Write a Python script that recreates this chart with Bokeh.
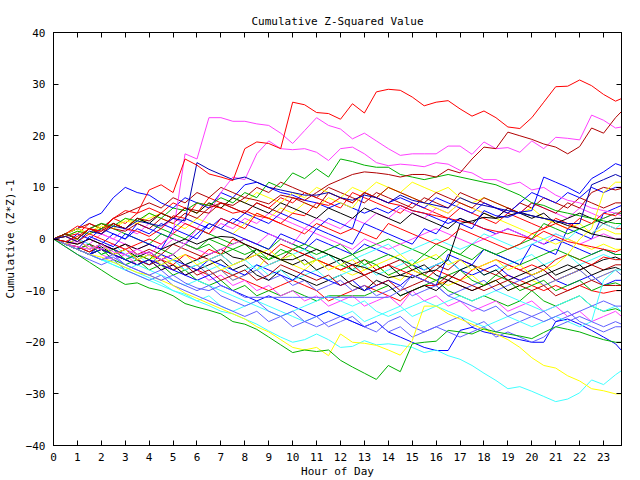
from bokeh.plotting import figure
from bokeh.models import Range1d, LinearAxis, FixedTicker
from bokeh.embed import file_html
from bokeh.resources import INLINE

TITLE = "Cumulative Z-Squared Value"
X_LABEL = "Hour of Day"
Y_LABEL = "Cumulative (Z*Z)-1"

HOURS = [0, 0.5, 1, 1.5, 2, 2.5, 3, 3.5, 4, 4.5, 5, 5.5, 6, 6.5, 7, 7.5,
         8, 8.5, 9, 9.5, 10, 10.5, 11, 11.5, 12, 12.5, 13, 13.5, 14, 14.5, 15, 15.5,
         16, 16.5, 17, 17.5, 18, 18.5, 19, 19.5, 20, 20.5, 21, 21.5, 22, 22.5, 23, 23.5,
         23.75]
X_TICKS = [0, 1, 2, 3, 4, 5, 6, 7, 8, 9, 10, 11, 12, 13, 14, 15, 16, 17, 18, 19, 20, 21, 22, 23]
Y_TICKS = [-40, -30, -20, -10, 0, 10, 20, 30, 40]

R1 = [0, -0.5, 0.5, 2, 1.5, 4, 5.5, 5,
      9.5, 10.5, 9, 15.5, 14.3, 12.6, 12, 11.3,
      17.5, 18.8, 18.5, 17.5, 26.5, 26, 24.5, 24.3,
      23.2, 26.2, 24.4, 28.5, 29, 28.8, 27.5, 25.8,
      26.5, 26.8, 25.2, 23.8, 24.8, 23.5, 21.7, 21.4,
      23.5, 26.5, 29.5, 29.6, 30.8, 29.7, 28, 26.7,
      27.2]
M1 = [0, -1, -1.5, -2, -1, -2.5, -3, -2,
      -3, -1, 1, 16.5, 15.5, 23.5, 23.5, 22.8,
      22.8, 22.3, 22, 20.5, 18.5, 21, 23.5, 22,
      21.3, 19.4, 20.5, 19, 17.5, 16.2, 16.5, 16.5,
      16.5, 18, 18, 16.4, 18.8, 17.5, 17.7, 16.8,
      19, 17.5, 19.7, 19.5, 19.2, 24, 23, 21.5,
      21.7]
M2 = [0, -1, -0.5, -1.5, -2, -1, -2, -3,
      -2.5, -4, -3, -1, 2, 5, 9, 12,
      11.5, 16.5, 19, 17.5, 17.3, 17.5, 16.8, 15.2,
      17.5, 17.8, 16.5, 14.8, 14.2, 14.5, 14.3, 14,
      14.8, 14.5, 13.3, 12.8, 11.5, 11.5, 10.5, 11,
      9.5, 10, 8.5, 7.5, 7, 6, 5.5, 5,
      4.5]
DR1 = [0, 1, 0, 2, 1.5, 3, 2, 4,
       3.5, 5, 4, 6, 5.5, 5, 7, 6.5,
       8, 7.5, 6.8, 8.5, 8, 7.5, 9, 10.5,
       11.5, 12.5, 13, 12.8, 12.5, 12, 12.5, 12.5,
       12, 13.5, 12.8, 15.5, 17.8, 17.5, 20.7, 20,
       19.3, 18.4, 17.8, 16.5, 17.9, 21.5, 20.5, 23.5,
       24.7]
G1 = [0, -1.5, -3, -4.5, -6, -7.5, -8.8, -8.5,
      -9.5, -10, -11, -12.5, -13.2, -13.8, -14.5, -16,
      -16.5, -17.5, -19, -20.5, -22, -21.5, -21.8, -21.5,
      -23.5, -24.8, -26, -27.2, -24.5, -25.7, -20.3, -20,
      -19.8, -17.7, -18, -18.4, -17.4, -18, -18.4, -18.8,
      -19.3, -18.1, -17, -17.5, -18, -18.8, -19.5, -20,
      -20]
C1 = [0, -1, -2, -3, -4, -4.5, -5.5, -6.5,
      -7.5, -8.5, -10, -10.7, -12, -12.9, -14, -14.5,
      -15.5, -16.5, -17.8, -19, -20, -19.5, -18.4, -19.5,
      -21, -20.8, -19.7, -20.5, -20.3, -20.6, -21, -22,
      -21.5, -22.6, -23.3, -24.5, -26, -27.4, -29, -28.6,
      -29.5, -30.5, -31.5, -31, -29.8, -27.3, -28.2, -26.3,
      -25.5]
Y1 = [0, -1, -2, -3, -3.5, -4.5, -5.5, -6.5,
      -7, -8, -9, -10.5, -11.5, -12.5, -13.5, -14.5,
      -15.5, -17, -18, -19.5, -21, -21.5, -21, -22.6,
      -18.4, -20, -20.2, -20.6, -21.5, -22.5, -19.7, -13,
      -13, -14.5, -15.5, -16.5, -17.5, -18.4, -19.5, -21,
      -23, -24.5, -25, -26.5, -27.5, -29, -29.4, -30,
      -30]
B1 = [0, -1, -2, 0.5, -0.5, -1.5, 1, 0,
      -1, -2, 2, 1, 0, 3, 2, 1,
      0, -1, -2, 1, 0, -1, 2, 1,
      0, -1, 3, 2, 1, 0, -1, 2,
      1, 4, 3, 2, 5.5, 4.5, 4.2, 5.2,
      5.5, 12, 11, 10, 8.8, 11.7, 13, 14.6,
      14.2]
B2 = [0, 0.5, -0.5, 1.5, 1, 2.5, 2, 3.5,
      3, 2.5, 4, 3.5, 14.8, 13.5, 12.5, 11.5,
      12, 11, 10, 9.5, 9, 8.5, 8.5, 9,
      8, 7.5, 8.5, 8, 7, 8.5, 7.5, 7,
      6.5, 6, 8, 7, 6.5, 6, 5.5, 5,
      4.5, 4, 3.5, 3, 3, 10.5, 11.5, 12.5,
      12]
B6 = [0, 1, 2, 4, 5, 8, 10, 9,
      8.5, 7, 6, 8, 7, 6, 9, 8,
      10.5, 11, 10, 9, 8.5, 7.5, 7, 6,
      7, 6, 5, 6, 5, 6.5, 5.5, 5,
      4, 3, 4, 3, 2, 1, 2, 1,
      0, -1, 0, -1, -2, -3, -2, -3,
      -3]
B7 = [0, -1, 0, -2, -1, 1, 0, 2,
      1, 3, 2, 4, 3, 2, 4, 3,
      5, 4, 3, 5, 4, 3, 2, 4,
      3, 2, 9, 8, 7, 8, 7, 6,
      8, 7, 6, 5, 7, 6, 5, 7,
      9, 8, 7, 9, 8, 10, 9, 10,
      10]
R2 = [0, 1, 2.5, 2, 1, 3, 2, 1.5,
      0.5, 2, 4.5, 4, 7, 6.5, 6, 5,
      5.5, 4.5, 4, 3, 5, 4.5, 7, 6.5,
      8, 7, 9, 8, 7, 6.5, 5.5, 5,
      4.5, 4, 3.5, 3, 2, 1.5, 1, 0.5,
      0, 1.5, 0.5, -0.5, -1, -1.5, -2, -2.5,
      -2]
R3 = [0, -1, -2, -3, -2, -3, -4, -3,
      -4, -5, -6, -5, -6, -7, -6, -7,
      -8, -9, -10, -9, -8, -9, -10, -12,
      -11, -10, -9, -10, -11, -12, -10, -9,
      -9, -8, -9, -10, -9, -8, -7, -8,
      -9, -10, -9, -10, -9, -10, -10.5, -10,
      -10]
R4 = [0, 0.5, -0.5, 1, 0, -1, -2, -1,
      0, -1, 1, 3, 2, 1, 4, 3,
      2, 5, 4, 3, 2, 1, 3, 2,
      1, 2, 1, 0, 3, 2, 1, 0,
      -1, 0, 2, 1, 0, -1, -2, -1,
      1, 2, 3, 2, 4, 3, 5, 4.5,
      5.5]
R5 = [0, -1, -1.5, -2.5, -1, -2, -3, -4,
      -3, -4, -5, -3, -4, -2, -3, 0,
      -1, -2, -3, -1, -2, -3, -4, -5,
      -6, -5, -7, -6, -5, -6, -7, -8,
      -6, -7, -8, -6, -5, -4, -5, -6,
      -5, -6, -4, -3, -4, -5, -3.5, -4,
      -4]
R6 = [0, 0.5, 1, 3, 2, 4, 3, 5,
      6, 5, 7, 6, 5, 8, 7, 6,
      5, 7, 6, 8, 7, 9, 8, 7,
      6, 9, 8, 7, 6, 5, 7, 6,
      5, 4, 6, 5, 4, 3, 5, 4,
      3, 2, 4, 3, 2, 1, 3, 2,
      2]
DR2 = [0, 1, 0, 2, 3, 2, 1.5, 3,
       2, 4, 3, 5, 4, 6, 7, 6,
       5, 7, 6, 5, 8, 7, 6, 9,
       8, 7, 9, 8, 10, 9, 8, 7,
       9, 8, 7, 6, 8, 7, 6, 5,
       7, 6, 5, 7, 6, 9, 10, 9.5,
       9.8]
DR3 = [0, -0.5, -1, 0, -1, -2, -1, -3,
       -2, -3, -1, -2, -3, -4, -3, -5,
       -4, -3, -5, -4, -2, -3, -4, -5,
       -6, -5, -4, -6, -5, -4, -6, -7,
       -5, -6, -4, -5, -6, -7, -5, -6,
       -7, -6, -8, -7, -6, -5, -6, -5,
       -5]
DR4 = [0, -1, -2, -1, -2, -3, -2, -4,
       -5, -4, -6, -5, -7, -6, -8, -7,
       -6, -8, -7, -5, -6, -7, -8, -7,
       -9, -8, -7, -9, -8, -10, -9, -8,
       -9, -7, -8, -9, -10, -9, -8, -9,
       -10, -9, -11, -10, -9, -8, -9, -9,
       -9]
DR5 = [0, 1, 2, 3, 2, 4, 5, 6,
       7, 6, 8, 7, 9, 8, 10, 9,
       8, 10, 9, 11, 10, 9, 8, 10,
       9, 8, 7, 9, 8, 7, 6, 8,
       7, 6, 9, 8, 7, 6, 5, 7,
       6, 8, 7, 6, 8, 7, 6, 7,
       7]
G2 = [0, 1, 0, 2, 3, 2.5, 4, 3.5,
      5, 4, 6, 5.5, 7, 6.5, 8, 7,
      9, 8, 11, 10, 12.8, 11.7, 13.6, 12,
      15.5, 15, 14.3, 13.9, 13.9, 12.5, 12, 11.5,
      12, 12.5, 12, 11.5, 11, 10.5, 9.5, 8.5,
      7, 6.5, 5.5, 5, 4.5, 4, 3.5, 3,
      3]
G3 = [0, -1, -2, -1, -3, -2, -4, -3,
      -4, -2, -3, -1, -2, 0, -1, -2,
      -3, -2, -4, -3, -2, -1, -2, -3,
      -4, -3, -5, -4, -3, -4, -5, -3,
      -4, -2, -3, -1, -2, -3, -2, -1,
      0, 3, 2, 1, 2, 3, 4, 5,
      5]
G4 = [0, -1, -2, -3, -2, -4, -5, -4,
      -6, -5, -7, -6, -8, -9, -8, -10,
      -9, -11, -10, -11, -10, -11, -12, -11,
      -11, -11, -11, -10, -9, -11, -10, -9,
      -8, -10, -11, -12, -11, -12, -13, -12,
      -10, -12, -13, -12, -11, -13, -14, -13.5,
      -14]
G5 = [0, 0.5, 1.5, 1, 2, 3, 2, 4,
      3, 2, 1, 0, 2, 1, 0, -1,
      0, -1, -2, 0, -1, -2, -3, -2,
      -1, -3, -2, -1, 0, -1, -2, -3,
      -1, -2, -3, -4, -2, -3, -4, -5,
      -4, -3, -2, -3, -4, -3, -2, -3,
      -3]
G6 = [0, 1, 2, 1, 3, 2, 1, 0,
      -1, 1, 0, -1, -2, -1, -3, -2,
      -1, -3, -4, -2, -3, -5, -4, -3,
      -5, -6, -4, -5, -7, -6, -5, -7,
      -8, -7, -6, -8, -9, -7, -8, -10,
      -9, -8, -10, -9, -8, -10, -9, -8.5,
      -9]
SB1 = [0, -1, -2, -3, -4, -3.5, -5, -6,
       -7, -8, -7, -8.5, -9.5, -10, -9, -10,
       -11.3, -11.3, -11.3, -11.3, -11.3, -11.3, -11.3, -11.3,
       -11.3, -11.3, -11.3, -11.3, -11.3, -10, -7, -8,
       -9, -11, -12, -13, -14, -13, -15, -14,
       -15, -16, -15, -14, -16, -17, -18, -17,
       -17]
B3 = [0, -1, -2, -3, -2, -3, -4, -5,
      -4, -5, -6, -7, -8, -7, -9, -10,
      -11, -12, -11, -12, -13, -14, -15, -14,
      -15, -16, -17, -16, -18, -19, -20, -21,
      -21.6, -21.6, -17.7, -17.1, -18, -18.5, -19, -19.5,
      -20, -20, -16, -15.5, -16.5, -17.7, -19, -20.3,
      -21.6]
B4 = [0, -1, 1, 0, 2, 1, 0, 3,
      2, 1, 0, -1, 1, 3, 2, 4,
      3, 2, 1, 0, -1, -2, 0, -1,
      -2, -3, -1, -2, -3, -4, -5, -6,
      -5, -4, -6, -7, -6, -5, -7, -8,
      -7, -6, -8, -9, -8, -7, -9, -8,
      -8]
B5 = [0, -1, -2, -3, -1, -2, -3, -4,
      -5, -3, -4, -5, -6, -4, -5, -6,
      -7, -5, -6, -7, -8, -6, -7, -8,
      -9, -8, -10, -9, -8, -9, -7, -8,
      -9, -3, -4, -5, -2, -3, -4, -5,
      -1, -2, -3, 2, 1, 0, 5, 6,
      6.5]
SB2 = [0, -1, -2, -3, -4, -3, -5, -6,
       -7, -6, -8, -9, -10, -9, -11, -12,
       -13, -12, -14, -15, -14, -16, -15, -17,
       -16, -15, -17, -16, -18, -17, -19, -18,
       -17, -18, -19, -18, -17, -19, -18, -19,
       -20, -19, -17, -16, -15, -16, -17, -16,
       -16.5]
SB3 = [0, -1.5, -3, -4, -5, -4, -6, -7,
       -8, -7, -9, -10, -11, -12, -13, -14,
       -15, -14, -16, -15, -17, -16, -17, -16,
       -15, -16, -17, -18, -16, -15, -17, -18,
       -17, -16, -15, -17, -16, -18, -17, -16,
       -15, -14, -16, -15, -14, -13, -12, -13,
       -13]
SB4 = [0, -1, 0, -2, -1, -3, -2, -4,
       -3, -5, -4, -6, -5, -7, -6, -8,
       -7, -6, -8, -7, -9, -8, -10, -9,
       -8, -10, -9, -11, -10, -9, -11, -10,
       -9, -11, -10, -9, -8, -10, -9, -8,
       -7, -9, -8, -7, -6, -8, -7, -6,
       -7]
C2 = [0, -1, -2, -3, -4, -5, -6, -5,
      -6, -7, -8, -9, -8, -9, -10, -11,
      -12, -13, -14, -15, -14, -13, -12, -11,
      -12, -13, -12, -14, -15, -14, -13, -12,
      -13, -14, -15, -16, -17, -16, -15, -16,
      -17, -16, -15, -16, -17, -16, -8, -6,
      -6]
C3 = [0, 1, 0, -1, -2, -1, -3, -4,
      -3, -5, -4, -6, -5, -4, -3, -5,
      -4, -6, -5, -4, -3, -2, -4, -3,
      -5, -4, -3, -2, -1, -3, -2, -1,
      0, -1, -2, -1, 1, 0, -1, -2,
      -1, 0, 1, 0, 2, 1, 3, 2,
      3]
C4 = [0, -1, -2, -3, -4, -5, -6, -7,
      -8, -9, -10, -11, -12, -11, -13, -14,
      -13, -12, -13, -14, -15, -16, -15, -14,
      -15, -14, -16, -15, -14, -13, -15, -14,
      -13, -12, -11, -12, -11, -10, -11, -12,
      -13, -14, -13, -12, -11, -13, -14, -13,
      -14]
C5 = [0, -1, -2, -1, -3, -2, -4, -3,
      -5, -4, -6, -5, -4, -6, -5, -7,
      -6, -5, -7, -6, -8, -7, -6, -8,
      -7, -6, -5, -7, -6, -5, -4, -6,
      -5, -4, -6, -5, -7, -6, -5, -4,
      -3, -5, -4, -3, -5, -4, -3, -4,
      -4]
Y2 = [0, 1, 2, 1, 3, 2, 4, 3,
      5, 4, 3, 2, 4, 3, 2, 1,
      3, 5, 4, 6, 5, 7, 6, 8,
      7, 6, 9, 8, 10, 9, 8, 7,
      6, 5, 7, 6, 5, 4, 3, 2,
      1, 0, -1, 0, -1, -2, -1, -2,
      -2]
Y3 = [0, -1, -2, -1, -3, -2, -4, -5,
      -4, -3, -5, -6, -5, -7, -6, -8,
      -7, -6, -3, -4, -5, -6, -4, -5,
      -6, -7, -6, -5, -7, -8, -6, -7,
      -8, -9, -8, -7, -9, -8, -10, -9,
      -8, -9, -8, -7, -6, -8, -7, -6,
      -7]
Y4 = [0, -1, 0, -2, -1, -3, -2, -4,
      -3, -5, -4, -3, -5, -4, -6, -5,
      -4, -3, -2, -4, -3, -5, -4, -6,
      -5, -4, -6, -5, -4, -3, -5, -4,
      -3, -5, -4, -6, -5, -4, -6, -5,
      -7, -6, -5, -3, 0, 2, 9, 11,
      11]
Y5 = [0, 0.5, 1.5, 1, 2.5, 2, 3.5, 3,
      4, 5, 4, 6, 5, 7, 6, 8,
      7, 9, 8, 7, 9, 8, 10, 9,
      8, 10, 9, 11, 10, 9, 11, 10,
      9, 10, 8, 7, 8, 7, 6, 5,
      6, 4, 3, 2, 3, 1, 2, 1,
      1]
K1 = [0, -0.5, -1, 0, -1, -2, -1, -2,
      -1, -2, -1, 0, -1, 0, 0.5, 0.3,
      -1, -2, -3, -4, -4, -3, -2, -3,
      -4, -5, -5.5, -6.5, -7.5, -7, -7.5, -6.5,
      -6, -4, 3, 3.5, 4.2, 4, 4.5, 5.2,
      4.5, 4, 3.5, 2.6, 2, 1, 0.5, 0,
      0]
K2 = [0, -1, -2, -3, -2, -3, -4, -5,
      -4, -6, -5, -7, -6, -5, -4, -6,
      -5, -7, -8, -6, -7, -8, -9, -8,
      -7, -9, -10, -8, -9, -11, -10, -9,
      -10, -8, -9, -10, -9, -8, -10, -9,
      -8, -7, -6, -5, -6, -5, -4, -3.5,
      -4]
K3 = [0, 1, 0, 2, 1, 3, 2, 4,
      3, 5, 4, 6, 5, 7, 6, 8,
      7, 6, 5, 7, 6, 5, 4, 6,
      5, 4, 6, 5, 4, 3, 5, 4,
      3, 2, 4, 3, 5, 4, 6, 5,
      4, 5, 3, 4, 5, 4, 3, 4,
      4]
K4 = [0, -1, -1.5, -2.5, -1.5, -3, -2, -3.5,
      -2.5, -4, -3, -5, -4, -3, -2, -3.5,
      -4, -2, -3, -4, -5, -4, -6, -5,
      -4, -6, -7, -6, -5, -7, -6, -5,
      -7, -8, -6, -5, -7, -6, -8, -7,
      -6, -5, -7, -6, -5, -7, -6, -5.5,
      -6]
M3 = [0, -1, -2, -1, -3, -4, -3, -5,
      -4, -6, -5, -7, -6, -8, -7, -9,
      -8, -10, -9, -11, -10, -12, -11, -13,
      -12, -11, -13, -12, -11, -13, -10, -12,
      -11, -13, -12, -14, -13, -12, -14, -13,
      -12, -14, -13, -15, -14, -16, -15, -14,
      -15]
M4 = [0, 1, 0, -1, 1, 0, -1, -2,
      -1, -2, 0, -1, -2, -3, -2, -1,
      0, -1, 1, 0, -1, 2, 1, 0,
      -1, -2, 0, -1, -2, -1, 0, 1,
      2, 1, 0, -1, 0, 1, 2, 1,
      0, -1, 1, 0, -1, 0, 1, 0,
      0]
M5 = [0, 1, 0, 2, 1, 0, 2, 1,
      3, 2, 4, 3, 2, 1, 3, 2,
      4, 3, 5, 4, 3, 2, 4, 3,
      2, 4, 3, 5, 4, 6, 5, 4,
      6, 5, 7, 6, 5, 4, 6, 5,
      7, 6, 5, 4, 6, 5, 4, 5,
      5]

RED = "#ff0000"
GREEN = "#00b000"
BLUE = "#0000ff"
MAGENTA = "#ff40ff"
CYAN = "#40ffff"
DARKRED = "#b00000"
YELLOW = "#ffff00"
SLATE = "#6060ff"
BLACK = "#000000"
NAVY = "#0000b0"

SERIES = [
    (R3, RED), (G4, GREEN), (B4, BLUE), (M3, MAGENTA), (C4, CYAN), (DR3, DARKRED),
    (Y3, YELLOW), (SB4, SLATE), (K2, BLACK),
    (R6, RED), (G6, GREEN), (B6, BLUE), (M5, MAGENTA), (C5, CYAN), (DR5, DARKRED),
    (Y5, YELLOW), (K4, BLACK), (B7, BLUE),
    (R5, RED), (G5, GREEN), (B5, BLUE), (M4, MAGENTA), (C3, CYAN), (DR4, DARKRED),
    (Y2, YELLOW), (SB3, SLATE), (K3, BLACK),
    (R2, RED), (G3, GREEN), (B3, BLUE), (M2, MAGENTA), (C2, CYAN), (DR2, DARKRED),
    (Y4, YELLOW), (SB2, SLATE), (K1, BLACK),
    (R4, RED), (G2, GREEN), (B1, BLUE), (M1, MAGENTA), (C1, CYAN), (DR1, DARKRED),
    (Y1, YELLOW), (SB1, SLATE), (B2, NAVY),
    (G1, GREEN), (R1, RED),
]

FONT = "DejaVu Sans Mono"

p = figure(width=640, height=480, output_backend="svg", toolbar_location=None,
           x_range=Range1d(0, 23.75), y_range=Range1d(-40, 40),
           x_axis_location=None, y_axis_location=None,
           min_border_left=51, min_border_right=19, min_border_top=32, min_border_bottom=35)
p.background_fill_color = "white"
p.border_fill_color = "white"
p.outline_line_color = "black"
p.outline_line_width = 1
p.grid.visible = False

p.title.text = TITLE
p.title.align = "center"
p.title.text_font = FONT
p.title.text_font_size = "11px"
p.title.text_font_style = "normal"
p.title.text_color = "black"


def labelled_axis(ticks, label):
    ax = LinearAxis(ticker=FixedTicker(ticks=ticks))
    ax.major_tick_in = 5
    ax.major_tick_out = 0
    ax.minor_tick_in = 0
    ax.minor_tick_out = 0
    ax.axis_line_color = "black"
    ax.major_tick_line_color = "black"
    ax.major_label_text_font = FONT
    ax.major_label_text_color = "black"
    ax.major_label_text_font_size = "11px"
    ax.axis_label = label
    ax.axis_label_text_font = FONT
    ax.axis_label_text_font_size = "11px"
    ax.axis_label_text_font_style = "normal"
    ax.axis_label_text_color = "black"
    return ax


def mirror_axis(ticks):
    # ticks only (drawn as minor ticks so that no label texts are produced)
    ax = LinearAxis(ticker=FixedTicker(ticks=[], minor_ticks=ticks))
    ax.major_tick_in = 0
    ax.major_tick_out = 0
    ax.minor_tick_in = 5
    ax.minor_tick_out = 0
    ax.minor_tick_line_color = "black"
    ax.axis_line_color = "black"
    ax.major_label_standoff = 0
    return ax


xb = labelled_axis(X_TICKS, X_LABEL)
xb.major_label_standoff = 7
xb.axis_label_standoff = 1
p.add_layout(xb, "below")

yl = labelled_axis(Y_TICKS, Y_LABEL)
yl.major_label_standoff = 8
yl.axis_label_standoff = 6
p.add_layout(yl, "left")

p.add_layout(mirror_axis(X_TICKS), "above")
p.add_layout(mirror_axis(Y_TICKS), "right")

for vals, col in SERIES:
    assert len(vals) == len(HOURS), (len(vals), col)
    p.line(HOURS, vals, line_color=col, line_width=1)

open("out.html", "w").write(file_html(p, INLINE))
